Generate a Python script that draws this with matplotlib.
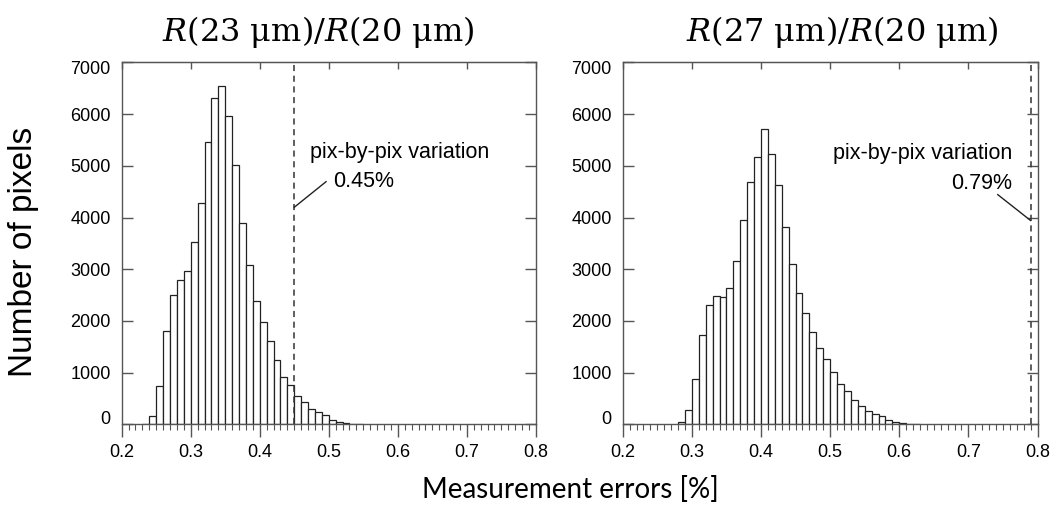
import numpy as np
import matplotlib
matplotlib.use("Agg")
import matplotlib.pyplot as plt
from matplotlib.transforms import ScaledTranslation

# histogram data (bin left edge, counts), bin width 0.01 %
left_edges = [0.23, 0.24, 0.25, 0.26, 0.27, 0.28, 0.29, 0.30, 0.31, 0.32, 0.33,
              0.34, 0.35, 0.36, 0.37, 0.38, 0.39, 0.40, 0.41, 0.42, 0.43, 0.44,
              0.45, 0.46, 0.47, 0.48, 0.49, 0.50, 0.51, 0.52, 0.53, 0.54]
left_counts = [15, 160, 746, 1800, 2500, 2800, 2970, 3530, 4290, 5460, 6310,
               6540, 5970, 5020, 3900, 3080, 2380, 1980, 1610, 1240, 920, 770,
               550, 440, 300, 240, 190, 95, 50, 28, 14, 5]

right_edges = [0.28, 0.29, 0.30, 0.31, 0.32, 0.33, 0.34, 0.35, 0.36, 0.37, 0.38,
               0.39, 0.40, 0.41, 0.42, 0.43, 0.44, 0.45, 0.46, 0.47, 0.48, 0.49,
               0.50, 0.51, 0.52, 0.53, 0.54, 0.55, 0.56, 0.57, 0.58, 0.59, 0.60,
               0.61, 0.62]
right_counts = [45, 280, 880, 1730, 2300, 2480, 2460, 2640, 3150, 3950, 4690,
                5170, 5710, 5230, 4630, 3820, 3100, 2540, 2160, 1790, 1470, 1270,
                1020, 790, 640, 480, 350, 255, 205, 165, 90, 50, 25, 12, 5]

titles = [r"$R(23\ \mathrm{μm})/R(20\ \mathrm{μm})$",
          r"$R(27\ \mathrm{μm})/R(20\ \mathrm{μm})$"]
pix_variation = [0.45, 0.79]
pix_labels = ["0.45%", "0.79%"]

xticks = [0.2, 0.3, 0.4, 0.5, 0.6, 0.7, 0.8]
yticks = [0, 1000, 2000, 3000, 4000, 5000, 6000, 7000]

plt.rcParams["font.family"] = "Liberation Sans"
plt.rcParams["mathtext.fontset"] = "dejavuserif"

fig = plt.figure(figsize=(10.56, 5.08), dpi=100)
ax1 = fig.add_axes([0.1152, 0.1644, 0.3923, 0.713])
ax2 = fig.add_axes([0.5897, 0.1644, 0.3928, 0.713])

spine_col = "#555555"
bar_col = "#222222"

for ax, edges, counts in [(ax1, left_edges, left_counts), (ax2, right_edges, right_counts)]:
    ax.bar(edges, counts, width=0.01, align="edge", facecolor="white",
           edgecolor=bar_col, linewidth=0.9)
    ax.set_xlim(0.2, 0.8)
    ax.set_ylim(0, 7000)
    for s in ax.spines.values():
        s.set_color(spine_col)
        s.set_linewidth(1.0)
    ax.tick_params(axis="x", which="major", direction="out", length=9, width=1,
                   color=spine_col, labelsize=13, pad=5)
    ax.tick_params(axis="x", which="minor", direction="out", length=4, width=0.8,
                   color=spine_col)
    ax.tick_params(axis="y", direction="in", length=8, width=1, color=spine_col,
                   left=True, right=True, labelsize=13, pad=8)
    ax.set_xticks(xticks, labels=[f"{t:.1f}" for t in xticks])
    ax.set_xticks(np.arange(0.2, 0.8001, 0.01), minor=True)
    ax.set_yticks(yticks, labels=[str(t) for t in yticks])
    # the end labels are nudged inside the frame
    ylabs = ax.get_yticklabels()
    ylabs[0].set_transform(ylabs[0].get_transform() + ScaledTranslation(0, 0.065, fig.dpi_scale_trans))
    ylabs[-1].set_transform(ylabs[-1].get_transform() + ScaledTranslation(0, -0.05, fig.dpi_scale_trans))
    # inward major ticks on the top edge
    sec = ax.secondary_xaxis("top")
    sec.set_xticks(xticks)
    sec.tick_params(direction="in", length=5, width=1, color=spine_col, labeltop=False)
    sec.spines["top"].set_color(spine_col)

# dashed pixel-by-pixel variation lines
for ax, v in zip([ax1, ax2], pix_variation):
    ax.axvline(v, color="#333333", linestyle=(0, (4, 3)), linewidth=1.1)

# annotations
ax1.text(0.473, 5250, "pix-by-pix variation", fontsize=15.5, ha="left", va="center")
ax1.text(0.506, 4692, pix_labels[0], fontsize=15.5, ha="left", va="center")
ax1.plot([pix_variation[0], 0.496], [4198, 4692], color="#222222", linewidth=1.0)

ax2.text(0.7638, 5230, "pix-by-pix variation", fontsize=15.5, ha="right", va="center")
ax2.text(0.7638, 4654, pix_labels[1], fontsize=15.5, ha="right", va="center")
ax2.plot([0.7425, pix_variation[1]], [4442, 3942], color="#222222", linewidth=1.0)

# titles and shared labels
fig.text(318 / 1056, 1 - 32 / 508, titles[0], fontsize=23, ha="center", va="center")
fig.text(842 / 1056, 1 - 32 / 508, titles[1], fontsize=23, ha="center", va="center")
fig.text(24 / 1056, 1 - 252 / 508, "Number of pixels", fontsize=24, rotation=90,
         ha="center", va="center")
fig.text(570 / 1056, 1 - 490 / 508, "Measurement errors [%]", fontsize=20,
         family="Lato", ha="center", va="center")

fig.savefig("out.png", dpi=100)
